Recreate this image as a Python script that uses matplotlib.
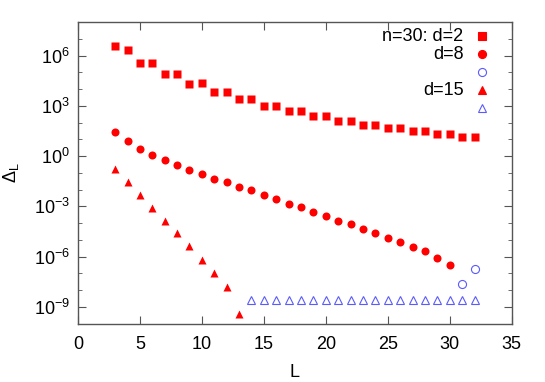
import numpy as np
import matplotlib
matplotlib.use("Agg")
import matplotlib.pyplot as plt
from matplotlib.ticker import FixedLocator, LogFormatterMathtext

plt.rcParams['font.family'] = ['Liberation Sans', 'DejaVu Sans']
plt.rcParams['mathtext.fontset'] = 'custom'
plt.rcParams['mathtext.rm'] = 'Liberation Sans'
plt.rcParams['mathtext.it'] = 'Liberation Sans'
plt.rcParams['mathtext.bf'] = 'Liberation Sans'

# log10 of Delta_L
L_d2 = list(range(3, 33))
log_d2 = [6.56, 6.36, 5.56, 5.56, 4.88, 4.88, 4.33, 4.35, 3.85, 3.85,
          3.41, 3.41, 3.00, 3.00, 2.68, 2.70, 2.40, 2.40, 2.12, 2.12,
          1.88, 1.88, 1.66, 1.66, 1.47, 1.47, 1.31, 1.31, 1.15, 1.15]

L_d8 = list(range(3, 31))
log_d8 = [1.42, 0.89, 0.40, 0.08, -0.25, -0.51, -0.81, -1.05, -1.34, -1.56,
          -1.83, -2.05, -2.33, -2.54, -2.84, -3.06, -3.33, -3.55, -3.85, -4.08,
          -4.38, -4.58, -4.87, -5.11, -5.41, -5.66, -6.10, -6.51]
L_d8_open = [31, 32]
log_d8_open = [-7.66, -6.77]

L_d15 = list(range(3, 14))
log_d15 = [-0.79, -1.54, -2.31, -3.08, -3.85, -4.62, -5.38, -6.22, -6.97, -7.80, -9.43]
L_d15_open = list(range(14, 33))
log_d15_open = [-8.59] * 19

red = '#ff0000'
blue = '#5a5aff'

fig = plt.figure(figsize=(5.45, 3.82), dpi=100)
ax = fig.add_axes([0.143, 0.153, 0.796, 0.789])

ax.plot(L_d2, 10.0 ** np.array(log_d2), 's', color=red, ms=5.6, mec='none')
ax.plot(L_d8, 10.0 ** np.array(log_d8), 'o', color=red, ms=5.8, mec='none')
ax.plot(L_d8_open, 10.0 ** np.array(log_d8_open), 'o', mfc='none', mec=blue, ms=5.8, mew=0.8)
ax.plot(L_d15, 10.0 ** np.array(log_d15), '^', color=red, ms=5.2, mec='none')
ax.plot(L_d15_open, 10.0 ** np.array(log_d15_open), '^', mfc='none', mec=blue, ms=5.8, mew=0.8)

ax.set_yscale('log')
ax.set_xlim(0, 35)
ax.set_ylim(1e-10, 1e8)
ax.set_xticks(range(0, 36, 5))
ax.yaxis.set_major_locator(FixedLocator([1e-9, 1e-6, 1e-3, 1e0, 1e3, 1e6]))
ax.yaxis.set_major_formatter(LogFormatterMathtext())
ax.yaxis.set_minor_locator(FixedLocator([10.0 ** k for k in range(-10, 9)]))
ax.yaxis.set_minor_formatter(plt.NullFormatter())

ax.tick_params(which='both', direction='in', top=True, right=True, color='#555555')
ax.tick_params(which='major', length=6, labelsize=13)
ax.tick_params(axis='x', which='major', pad=9)
ax.tick_params(axis='y', which='major', pad=6)
ax.tick_params(which='minor', length=3)
for s in ax.spines.values():
    s.set_color('#555555')
    s.set_linewidth(1.0)

ax.set_xlabel('L', fontsize=13, labelpad=8)
ax.set_ylabel(r'$\Delta_\mathrm{L}$', fontsize=13, labelpad=9)

# gnuplot-style key: right-aligned text, marker on the right
key_rows = [('n=30: d=2', 's', red, red, 5.6),
            ('d=8', 'o', red, red, 5.8),
            ('', 'o', 'none', blue, 5.8),
            ('d=15', '^', red, red, 5.2),
            ('', '^', 'none', blue, 5.8)]
y0 = 0.953
dy = 0.0598
for i, (lab, mk, fc, ec, size) in enumerate(key_rows):
    y = y0 - i * dy
    ax.text(0.889, y, lab, transform=ax.transAxes, ha='right', va='center', fontsize=13)
    ax.plot([0.931], [y], mk, transform=ax.transAxes, mfc=fc, mec=ec, ms=size,
            mew=0.8, clip_on=False)

fig.savefig('out.png', dpi=100)
